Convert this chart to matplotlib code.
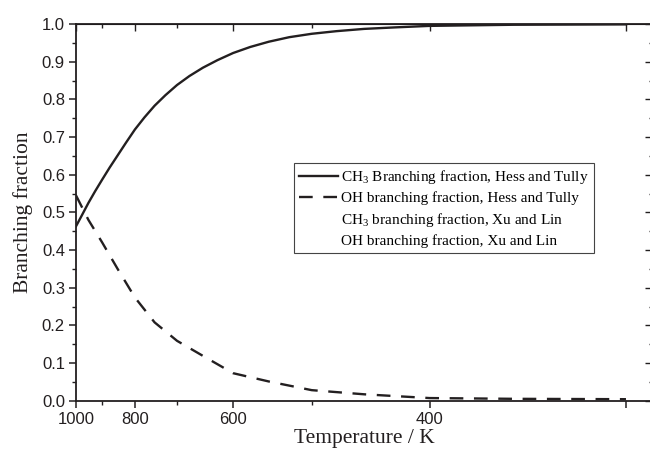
import numpy as np
import matplotlib.pyplot as plt

#%% data (T in K, fractions)
temps = [1000, 975, 950, 925, 900, 875, 850, 825, 800, 775, 750, 725, 700, 675, 650,
         625, 600, 575, 550, 525, 500, 475, 450, 425, 400, 350, 300]
ch3_hess_tully = [0.463, 0.493, 0.525, 0.556, 0.587, 0.619, 0.651, 0.685, 0.72, 0.752, 0.783, 0.811, 0.838, 0.862, 0.884,
                  0.904, 0.923, 0.939, 0.953, 0.965, 0.974, 0.981, 0.987, 0.991, 0.995, 0.998, 0.999]

oh_temps = [1000, 950, 900, 850, 800, 750, 700, 650, 600, 550, 500, 450, 400, 350, 300]
oh_hess_tully = [0.545, 0.48, 0.42, 0.35, 0.274, 0.208, 0.159, 0.119, 0.073, 0.051, 0.028, 0.017, 0.007, 0.005, 0.004]

labels = ["CH$_\\mathrm{3}$ Branching fraction, Hess and Tully",
          "OH branching fraction, Hess and Tully",
          "CH$_\\mathrm{3}$ branching fraction, Xu and Lin",
          "OH branching fraction, Xu and Lin"]

major_T = [1000, 800, 600, 400, 300]
major_T_labels = ["1000", "800", "600", "400", ""]
minor_T = [900, 700, 500]

#%%
plt.rcParams['font.family'] = 'Liberation Sans'
plt.rcParams['mathtext.fontset'] = 'custom'
plt.rcParams['mathtext.rm'] = 'Liberation Serif'
ink = '#231f20'

fig = plt.figure(figsize=(6.5, 4.61), dpi=100)
ax = fig.add_axes([76/650, 60.3/461, 576/650, 376.7/461])

ax.plot(1000/np.array(temps), ch3_hess_tully, color=ink, lw=1.7, label=labels[0])
ax.plot(1000/np.array(oh_temps), oh_hess_tully, color=ink, lw=1.7, dashes=(5.8, 4.5), label=labels[1])
# Xu and Lin entries show no visible marks in the original
ax.plot([], [], color='none', label=labels[2])
ax.plot([], [], color='none', label=labels[3])

ax.set_xlim(1.0, 1 + 576/235.7)
ax.set_ylim(0, 1.0)

ax.set_xticks(1000/np.array(major_T))
ax.set_xticklabels(major_T_labels)
ax.set_xticks(1000/np.array(minor_T), minor=True)
ax.set_yticks(np.arange(0, 1.01, 0.1))
ax.set_yticklabels(["%.1f" % v for v in np.arange(0, 1.01, 0.1)])
ax.set_yticks(np.arange(0.05, 1.0, 0.1), minor=True)

ax.tick_params(which='major', direction='out', length=5, width=1.1, labelsize=12, pad=3, colors=ink)
ax.tick_params(which='minor', direction='out', length=3, width=1.0, colors=ink)
for s in ax.spines.values():
    s.set_linewidth(1.3)
    s.set_color(ink)

top = ax.secondary_xaxis('top')
top.set_xticks(1000/np.array(major_T))
top.set_xticks(1000/np.array(minor_T), minor=True)
top.tick_params(which='both', direction='in', labeltop=False, width=1.0, colors=ink)
top.tick_params(which='major', length=5)
top.tick_params(which='minor', length=3)

right = ax.secondary_yaxis('right')
right.set_yticks(np.arange(0, 1.01, 0.1))
right.set_yticks(np.arange(0.05, 1.0, 0.1), minor=True)
right.tick_params(which='both', direction='in', labelright=False, width=1.0, colors=ink)
right.tick_params(which='major', length=5)
right.tick_params(which='minor', length=2)

ax.set_xlabel("Temperature / K", family='Liberation Serif', fontsize=15.5, color=ink)
ax.set_ylabel("Branching fraction", family='Liberation Serif', fontsize=15.5, color=ink)
ax.xaxis.set_label_coords(0.5, -0.075)
ax.yaxis.set_label_coords(-0.075, 0.5)

leg = ax.legend(loc='upper left', bbox_to_anchor=(294/650, 1 - 163/461), bbox_transform=fig.transFigure,
                borderaxespad=0, prop={'family': 'Liberation Serif', 'size': 11},
                handlelength=2.5, handletextpad=0.2, labelspacing=0.35, borderpad=0.35,
                fancybox=False, framealpha=1)
leg.get_frame().set_edgecolor('#444444')
leg.get_frame().set_linewidth(0.8)

fig.savefig('out.png', dpi=100)
